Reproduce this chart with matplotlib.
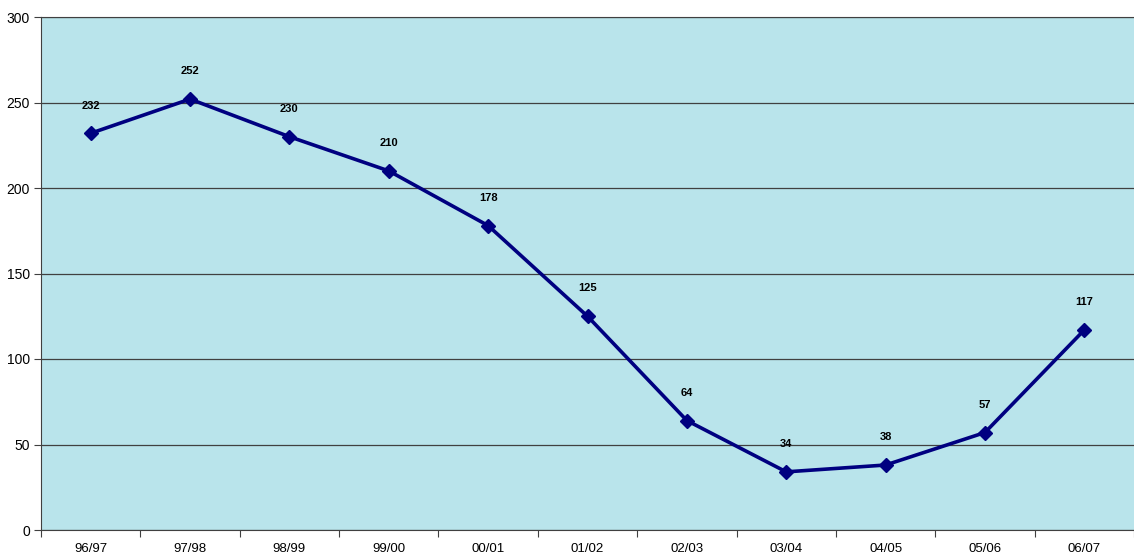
import numpy as np
import matplotlib.pyplot as plt

# Data
seasons = ["96/97", "97/98", "98/99", "99/00", "00/01", "01/02",
           "02/03", "03/04", "04/05", "05/06", "06/07"]
values = [232, 252, 230, 210, 178, 125, 64, 34, 38, 57, 117]

plt.rcParams['font.family'] = ['Liberation Sans', 'DejaVu Sans']

fig = plt.figure(figsize=(11.34, 5.54), dpi=100)
ax = fig.add_axes([41 / 1134, 24 / 554, 1 - 41 / 1134, 513 / 554])
ax.set_facecolor('#b9e4eb')

x = np.arange(len(seasons))
ax.plot(x, values, color='#000080', linewidth=2.6, marker='D', markersize=7,
        zorder=3)

for xi, v in zip(x, values):
    ax.annotate(str(v), (xi, v), xytext=(0, 20), textcoords='offset points',
                ha='center', va='center', fontsize=8, fontweight='bold')

ax.set_xlim(-0.5, len(seasons) - 0.5)
ax.set_ylim(0, 300)
ax.set_yticks(range(0, 301, 50))
ax.yaxis.grid(True, color='#404040', linewidth=0.9)
ax.set_axisbelow(True)

# category boundaries as tick marks, labels centred in each bin
ax.set_xticks(np.arange(-0.5, len(seasons), 1.0))
ax.set_xticklabels([])
ax.set_xticks(x, minor=True)
ax.set_xticklabels(seasons, minor=True)
ax.tick_params(axis='x', which='major', length=5, color='#404040')
ax.tick_params(axis='x', which='minor', length=0, labelsize=9.5, pad=9)
ax.tick_params(axis='y', length=5, color='#404040', labelsize=10, pad=3)

for side in ['left', 'bottom', 'top']:
    ax.spines[side].set_color('#404040')
ax.spines['right'].set_visible(False)

fig.savefig('out.png', dpi=100)
